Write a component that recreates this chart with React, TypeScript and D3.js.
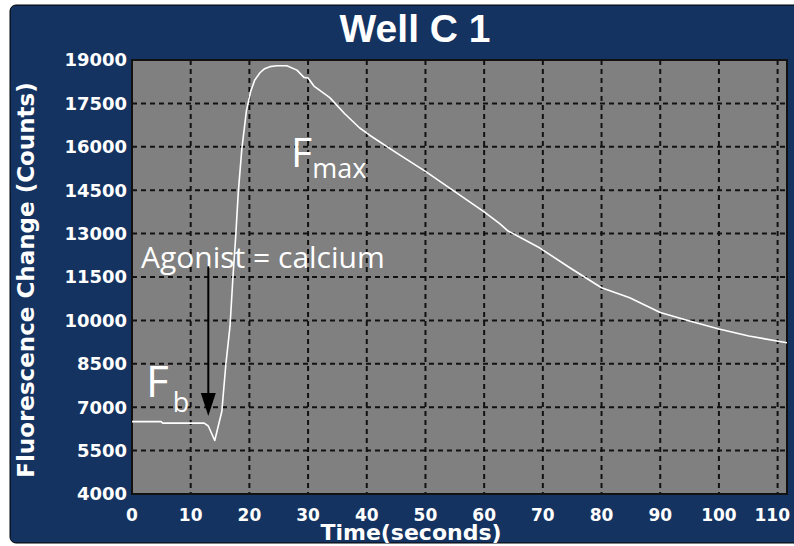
import React from "react";
import * as d3 from "d3";

// Calcium flux trace for well C1
const timeSeconds = [
  0, 5, 5.2, 12.3, 13, 14.1, 15.3, 16.0, 16.7, 17.2, 17.7, 18.1, 18.7, 19.5,
  20.2, 20.9, 21.8, 22.6, 23.5, 24.7, 26.4, 28.1, 29.3, 30.0, 31.0, 33.7, 36.2,
  38.8, 40.5, 45, 50, 55, 60, 62.6, 64, 69.5, 74.6, 80, 84.8, 90, 95, 100,
  105.1, 111.6,
];
const fluorescence = [
  6500, 6500, 6450, 6450, 6350, 5850, 6850, 8500, 9800, 11500, 13000, 14400,
  15900, 17250, 17900, 18300, 18560, 18700, 18770, 18800, 18800, 18650, 18400,
  18380, 18100, 17700, 17150, 16650, 16400, 15800, 15150, 14450, 13750, 13350,
  13100, 12500, 11820, 11130, 10780, 10270, 9980, 9700, 9460, 9230,
];

const xTicks = [0, 10, 20, 30, 40, 50, 60, 70, 80, 90, 100, 110];
const yTicks = [4000, 5500, 7000, 8500, 10000, 11500, 13000, 14500, 16000, 17500, 19000];

const W = 794;
const H = 546;
const plot = { left: 132, top: 60, right: 787, bottom: 494 };

const navy = "#143361";
const grey = "#808080";
const boldFont = "'DejaVu Sans', Verdana, sans-serif";
const textFont = "'Open Sans', 'Noto Sans', sans-serif";

export default function App() {
  const x = d3.scaleLinear().domain([0, 111.6]).range([plot.left, plot.right]);
  const y = d3.scaleLinear().domain([4000, 19000]).range([plot.bottom, plot.top]);

  const pts: [number, number][] = timeSeconds.map((t, i) => [t, fluorescence[i]]);
  const line = d3
    .line<[number, number]>()
    .x((d) => x(d[0]))
    .y((d) => y(d[1]));

  // agonist addition marker
  const arrowT = 13;
  const arrowTop = y(11870);
  const arrowTip = y(6700);
  const ax = x(arrowT);

  const lastTick = xTicks[xTicks.length - 1];

  return (
    <svg
      width={W}
      height={H}
      style={{ position: "absolute", left: 0, top: 0, background: "#fff" }}
    >
      <rect x={10} y={5} width={W + 20} height={538} rx={6} fill={navy} stroke="#000" strokeWidth={1} />

      <text
        x={415}
        y={42}
        textAnchor="middle"
        fill="#fff"
        fontFamily="'Liberation Sans', Arial, sans-serif"
        fontWeight="bold"
        fontSize={39}
      >
        Well C 1
      </text>

      <rect
        x={plot.left}
        y={plot.top}
        width={plot.right - plot.left}
        height={plot.bottom - plot.top}
        fill={grey}
      />

      {/* dashed grid */}
      {xTicks
        .filter((t) => t > 0)
        .map((t) => (
          <line
            key={"gx" + t}
            x1={x(t)}
            x2={x(t)}
            y1={plot.top}
            y2={plot.bottom}
            stroke="#111"
            strokeWidth={2}
            strokeDasharray="5,4"
          />
        ))}
      {yTicks
        .filter((v) => v > 4000 && v < 19000)
        .map((v) => (
          <line
            key={"gy" + v}
            x1={plot.left}
            x2={plot.right}
            y1={y(v)}
            y2={y(v)}
            stroke="#111"
            strokeWidth={2}
            strokeDasharray="5,4"
          />
        ))}

      <rect
        x={plot.left}
        y={plot.top}
        width={plot.right - plot.left}
        height={plot.bottom - plot.top}
        fill="none"
        stroke="#111"
        strokeWidth={2}
      />

      <path d={line(pts) ?? ""} fill="none" stroke="#fff" strokeWidth={1.6} strokeLinejoin="round" />

      {/* tick labels */}
      {yTicks.map((v) => (
        <text
          key={"ty" + v}
          x={127}
          y={y(v)}
          dy="0.36em"
          textAnchor="end"
          fill="#fff"
          fontFamily={boldFont}
          fontWeight="bold"
          fontSize={18}
        >
          {v}
        </text>
      ))}
      {xTicks.map((t) => (
        <text
          key={"tx" + t}
          x={t === lastTick ? 790 : x(t)}
          y={521}
          textAnchor={t === lastTick ? "end" : "middle"}
          fill="#fff"
          fontFamily={boldFont}
          fontWeight="bold"
          fontSize={17}
        >
          {t}
        </text>
      ))}

      {/* axis titles */}
      <text
        x={411}
        y={540}
        textAnchor="middle"
        fill="#fff"
        fontFamily={boldFont}
        fontWeight="bold"
        fontSize={22}
      >
        Time(seconds)
      </text>
      <text
        transform="translate(34,280) rotate(-90)"
        textAnchor="middle"
        fill="#fff"
        fontFamily={boldFont}
        fontWeight="bold"
        fontSize={23}
      >
        Fluorescence Change (Counts)
      </text>

      {/* annotations */}
      <text x={291} y={167} fill="#fff" fontFamily={textFont} fontSize={41}>
        F
        <tspan fontSize={27} dy={11}>
          max
        </tspan>
      </text>
      <text x={146} y={397} fill="#fff" fontFamily={textFont} fontSize={44}>
        F
        <tspan fontSize={27} dx={4} dy={15}>
          b
        </tspan>
      </text>
      <text x={141} y={268} fill="#fff" fontFamily={textFont} fontSize={30}>
        Agonist = calcium
      </text>

      <line x1={ax} x2={ax} y1={arrowTop} y2={arrowTip - 22} stroke="#000" strokeWidth={2} />
      <path
        d={`M${ax - 7.5},${arrowTip - 23} L${ax + 7.5},${arrowTip - 23} L${ax},${arrowTip} Z`}
        fill="#000"
      />
    </svg>
  );
}
